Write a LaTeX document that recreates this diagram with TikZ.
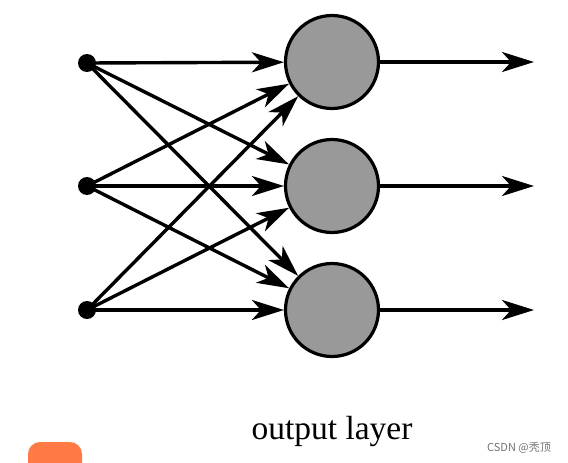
\documentclass[tikz,border=0pt]{standalone}
\usepackage{fontspec}
\setmainfont{Liberation Serif}
\newfontfamily\cjk{Noto Sans CJK SC}
\usetikzlibrary{arrows.meta}
\tikzset{
  inp/.style={circle,fill=black,inner sep=0pt,minimum size=18pt},
  outp/.style={circle,draw=black,line width=3.2pt,fill=black!40,inner sep=0pt,minimum size=93pt},
  conn/.style={line width=3.4pt,-{Stealth[length=32pt,width=20pt,inset=9pt]}}
}
\begin{document}
\begin{tikzpicture}[x=1pt,y=-1pt]
\useasboundingbox (0,0) rectangle (568,463);
\node[inp] (i1) at (87,63) {};
\node[inp] (i2) at (87,186) {};
\node[inp] (i3) at (87,310) {};
\node[outp] (o1) at (332,62) {};
\node[outp] (o2) at (332,186) {};
\node[outp] (o3) at (332,310) {};
\coordinate (e1) at (534,62);
\coordinate (e2) at (534,186);
\coordinate (e3) at (534,310);
\foreach \i in {1,2,3}{
  \foreach \j in {1,2,3}{
    \draw[conn] (i\i.center) -- (o\j);
  }
  \draw[conn] (o\i) -- (e\i);
}
\node[font=\fontsize{33.5}{38}\selectfont,anchor=base] (lbl) at (332,439) {output layer};
\node[font=\cjk\fontsize{11}{13}\selectfont,text=black!55,anchor=center] (wm) at (519,448) {CSDN @秃顶};
\fill[fill={rgb,255:red,255;green,122;blue,69}, rounded corners=12pt] (28,442) rectangle (82,475);
\end{tikzpicture}
\end{document}
